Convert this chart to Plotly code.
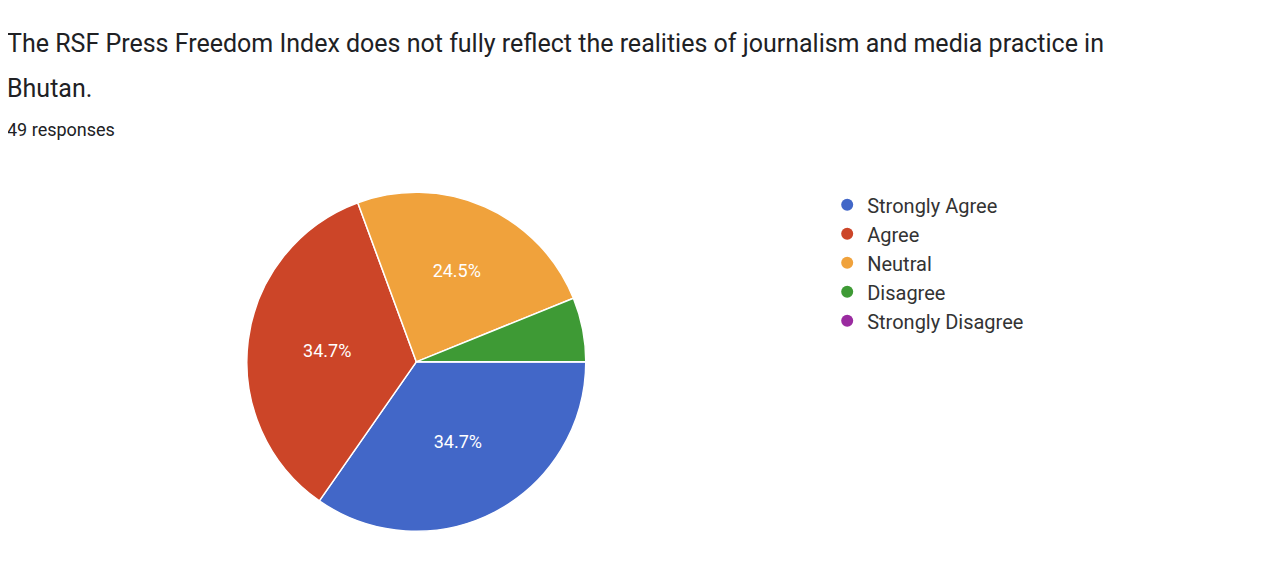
import plotly.graph_objects as go

labels = ["Strongly Agree", "Agree", "Neutral", "Disagree", "Strongly Disagree"]
counts = [17, 17, 12, 3, 0]
colors = ["#4267c8", "#cc4528", "#f0a23c", "#3e9a35", "#9a2ba0"]

title_lines = ["The RSF Press Freedom Index does not fully reflect the realities of journalism and media practice in",
               "Bhutan."]

total = sum(counts)
# google forms hides labels on small slices
slice_text = ["%.1f%%" % (c * 100 / total) if c * 100 / total > 10 else "" for c in counts]

fig = go.Figure()
fig.add_trace(go.Pie(labels=labels, values=counts, marker=dict(colors=colors, line=dict(color="white", width=1.5)),
                     text=slice_text, textinfo="text", textposition="inside", insidetextorientation="horizontal",
                     textfont=dict(color="white", size=18, family="Roboto"),
                     sort=False, direction="clockwise", rotation=90, showlegend=False,
                     domain=dict(x=[0.186, 0.450], y=[0.098, 0.684])))

# legend with round markers
for lab, col in zip(labels, colors):
    fig.add_trace(go.Scatter(x=[None], y=[None], mode="markers", name=lab,
                             marker=dict(color=col, size=24, symbol="circle")))

fig.update_layout(
    width=1284, height=581, margin=dict(l=0, r=0, t=0, b=0),
    paper_bgcolor="white", plot_bgcolor="white",
    xaxis=dict(visible=False), yaxis=dict(visible=False),
    font=dict(family="Roboto", color="#202124"),
    legend=dict(x=0.638, y=0.695, xanchor="left", yanchor="top", font=dict(size=20, color="#333"),
                tracegroupgap=0, itemsizing="constant"),
)
for i, line in enumerate(title_lines):
    fig.add_annotation(text=line, x=-3 / 1284, y=1 - (19 + 45 * i) / 581, xref="paper", yref="paper",
                       showarrow=False, xanchor="left", yanchor="top", font=dict(size=25, color="#202124"))
fig.add_annotation(text="49 responses", x=-3 / 1284, y=1 - 109 / 581, xref="paper", yref="paper", showarrow=False,
                   xanchor="left", yanchor="top", font=dict(size=18, color="#202124"))

fig.write_html("out.html")
